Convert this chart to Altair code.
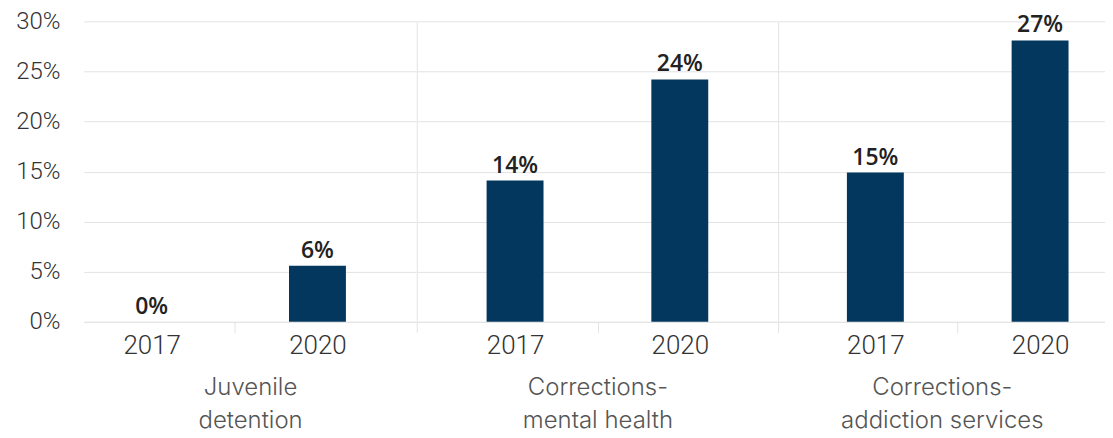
import altair as alt
import pandas as pd

# ---- data ----
groups = ["Juvenile detention", "Corrections-mental health", "Corrections-addiction services"]
group_lines = [["Juvenile", "detention"], ["Corrections-", "mental health"], ["Corrections-", "addiction services"]]
years = ["2017", "2020"]
share_2017 = [0.000, 0.141, 0.149]
share_2020 = [0.056, 0.242, 0.281]
label_2017 = ["0%", "14%", "15%"]
label_2020 = ["6%", "24%", "27%"]
y_ticks = [0, 0.05, 0.10, 0.15, 0.20, 0.25, 0.30]

# ---- styling ----
FONT = "Roboto"
TFONT = "Inter"
LFONT = "Open Sans"
BAR = "#03375e"
GRID = "#e3e3e3"
H = 301
widths = [333, 361, 327]
steps = [166, 165, 165]
pad_inner = [0.6566, 0.6545, 0.6545]
pad_outer = [0.331, 0.421, 0.318]
aligns = [0.359, 0.5, 0.652]
# the divider tick between the two years: offset from one band, hide the other
tick_dir = [1, -1, -1]

panels = []
for i, g in enumerate(groups):
    df = pd.DataFrame({
        "group": [g, g],
        "year": years,
        "share": [share_2017[i], share_2020[i]],
        "label": [label_2017[i], label_2020[i]],
    })
    off = tick_dir[i] * steps[i] / 2
    hidden = years[1] if tick_dir[i] > 0 else years[0]
    x = alt.X(
        "year:N",
        sort=years,
        scale=alt.Scale(paddingInner=pad_inner[i], paddingOuter=pad_outer[i], align=aligns[i]),
        axis=alt.Axis(
            title=group_lines[i],
            titleFontSize=24, titleFont=TFONT, titleFontWeight=300, titleColor="#555555",
            titleLineHeight=33, titlePadding=17,
            labelFontSize=26, labelFont=FONT, labelFontWeight=300, labelColor="#333333",
            labelPadding=0, labelAngle=0,
            tickSize=11, tickColor=GRID, tickOffset=off, labelOffset=-off,
            tickOpacity={"condition": {"test": f"datum.value === '{hidden}'", "value": 0}, "value": 1},
            domainColor=GRID, grid=False,
        ),
    )
    if i == 0:
        yaxis = alt.Axis(
            title=None, values=y_ticks, format=".0%",
            labelFontSize=24, labelFont=FONT, labelFontWeight=300, labelColor="#333333",
            labelPadding=24, minExtent=76, ticks=False, domain=False, grid=True, gridColor=GRID,
        )
    else:
        yaxis = alt.Axis(title=None, values=y_ticks, labels=False, ticks=False, domain=False,
                         grid=True, gridColor=GRID)
    y = alt.Y("share:Q", scale=alt.Scale(domain=[0, 0.30]), axis=yaxis)

    base = alt.Chart(df)
    bars = base.mark_bar(color=BAR).encode(x=x, y=y)
    text = base.mark_text(
        font=LFONT, fontSize=23, fontWeight=600, color="#222222", baseline="alphabetic", dy=-8
    ).encode(x=alt.X("year:N", sort=years), y=alt.Y("share:Q"), text="label:N")
    layers = [bars, text]
    if i > 0:
        sep = alt.Chart(pd.DataFrame({"s": [0]})).mark_rule(color=GRID, strokeWidth=1).encode(
            x=alt.value(0), y=alt.value(0), y2=alt.value(H + 11)
        )
        layers = [sep] + layers
    panels.append(alt.layer(*layers).properties(width=widths[i], height=H))

chart = alt.hconcat(*panels, spacing=0).resolve_scale(x="independent").properties(
    padding={"left": 0, "top": 1, "right": 0, "bottom": 0}
).configure_view(stroke=None)

chart.save("out.html", embed_options={"renderer": "svg", "actions": False})
